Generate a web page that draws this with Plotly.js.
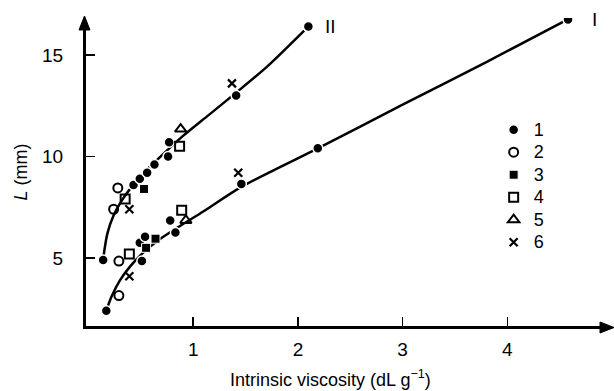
<!DOCTYPE html>
<html><head><meta charset="utf-8">
<script src="https://cdn.plot.ly/plotly-3.0.1.min.js"></script>
<style>html,body{margin:0;padding:0;background:#fff}#chart{width:614px;height:391px}</style>
</head><body><div id="chart"></div>
<script>
// Fitted curves
var curveII_x = [0.14, 0.18, 0.24, 0.32, 0.42, 0.55, 0.70, 0.90, 1.15, 1.40, 1.70, 2.06];
var curveII_y = [4.95, 6.20, 7.10, 7.85, 8.55, 9.30, 10.05, 11.00, 12.05, 13.10, 14.40, 16.20];
var curveI_x = [0.17, 0.22, 0.30, 0.40, 0.52, 0.66, 0.85, 1.10, 1.46, 2.19, 3.00, 3.80, 4.56];
var curveI_y = [2.40, 3.10, 3.90, 4.60, 5.25, 5.85, 6.50, 7.30, 8.50, 10.40, 12.55, 14.65, 16.70];

// Series 1..6 (both curves combined)
var s1_x = [0.14, 0.43, 0.49, 0.56, 0.63, 0.76, 0.77, 1.41, 2.10, 0.17, 0.51, 0.49, 0.54, 0.83, 0.78, 1.46, 2.19, 4.58];
var s1_y = [4.90, 8.60, 8.90, 9.20, 9.60, 10.00, 10.70, 13.00, 16.40, 2.40, 4.85, 5.75, 6.05, 6.25, 6.85, 8.65, 10.40, 16.75];
var s2_x = [0.28, 0.24, 0.29, 0.29];
var s2_y = [8.45, 7.40, 3.15, 4.85];
var s3_x = [0.53, 0.55, 0.64];
var s3_y = [8.40, 5.50, 5.95];
var s4_x = [0.35, 0.87, 0.39, 0.89];
var s4_y = [7.90, 10.50, 5.20, 7.35];
var s5_x = [0.88, 0.93];
var s5_y = [11.35, 6.85];
var s6_x = [0.39, 1.37, 0.39, 1.43];
var s6_y = [7.40, 13.60, 4.10, 9.20];

var seriesNames = ['1', '2', '3', '4', '5', '6'];
var xTicks = [1, 2, 3, 4];
var yTicks = [5, 10, 15];
var curveLabels = ['I', 'II'];
var xTitle = 'Intrinsic viscosity (dL g<sup>\u22121</sup>)';
var yTitle = '<i>L</i> (mm)';

var FONT = 'Liberation Sans, Arial, sans-serif';
var W = 614, H = 391, M = {l: 86, r: 2, t: 18, b: 65};
var PW = W - M.l - M.r, PH = H - M.t - M.b;
// pixel offsets -> paper fractions (for arrowhead decoration)
function px(v) { return v / PW; }
function py(v) { return v / PH; }
function pathFrom(pts) {
  return pts.map(function (p, i) { return (i ? 'L' : 'M') + p[0].toFixed(5) + ',' + p[1].toFixed(5); }).join(' ') + ' Z';
}
var xArrow = pathFrom([[1 + px(2), -py(1.5)], [1 - px(12), -py(1.5) + py(5.5)], [1 - px(12), -py(1.5) - py(5.5)]]);
var yArrow = pathFrom([[-px(1.5), 1 + py(2)], [-px(1.5) - px(5.5), 1 - py(12)], [-px(1.5) + px(5.5), 1 - py(12)]]);

var lineStyle = {color: '#000', width: 2.5, shape: 'spline', smoothing: 0.8};
function legName(n) { return '<span style="font-size:18px">' + n + '</span>'; }

var traces = [
  {x: curveII_x, y: curveII_y, mode: 'lines', line: lineStyle, showlegend: false, hoverinfo: 'skip'},
  {x: curveI_x, y: curveI_y, mode: 'lines', line: lineStyle, showlegend: false, hoverinfo: 'skip'},
  {x: s1_x, y: s1_y, name: legName(seriesNames[0]), mode: 'markers',
   marker: {symbol: 'circle', size: 10, color: '#000', line: {color: '#fff', width: 1.5}}},
  {x: s2_x, y: s2_y, name: legName(seriesNames[1]), mode: 'markers',
   marker: {symbol: 'circle-open', size: 9, color: '#000', line: {color: '#000', width: 2}}},
  {x: s3_x, y: s3_y, name: legName(seriesNames[2]), mode: 'markers',
   marker: {symbol: 'square', size: 9, color: '#000', line: {color: '#fff', width: 1}}},
  {x: s4_x, y: s4_y, name: legName(seriesNames[3]), mode: 'markers',
   marker: {symbol: 'square-open', size: 9, color: '#000', line: {color: '#000', width: 2}}},
  {x: s5_x, y: s5_y, name: legName(seriesNames[4]), mode: 'markers',
   marker: {symbol: 'triangle-up-open', size: 10, color: '#000', line: {color: '#000', width: 2}}},
  {x: s6_x, y: s6_y, name: legName(seriesNames[5]), mode: 'markers',
   marker: {symbol: 'x-thin', size: 8, color: '#000', line: {color: '#000', width: 2.2}}}
];

var layout = {
  width: W, height: H,
  margin: {l: M.l, r: M.r, t: M.t, b: M.b, pad: 0},
  paper_bgcolor: '#fff', plot_bgcolor: '#fff',
  font: {family: FONT, color: '#000', size: 16},
  showlegend: true,
  legend: {x: 0.775, y: 0.69, xanchor: 'left', yanchor: 'top', bgcolor: 'rgba(0,0,0,0)',
           font: {family: FONT, size: 15, color: '#000'}, tracegroupgap: 0, itemwidth: 30},
  xaxis: {range: [-0.024, 5.0], showgrid: false, zeroline: false, showline: true, linewidth: 3, linecolor: '#000',
          ticks: 'inside', ticklen: 9, tickwidth: 1.5, tickcolor: '#000', tickvals: xTicks, ticktext: xTicks.map(String),
          tickfont: {family: FONT, size: 19}, ticklabelstandoff: 4},
  yaxis: {range: [1.65, 16.82], showgrid: false, zeroline: false, showline: true, linewidth: 3, linecolor: '#000',
          ticks: 'inside', ticklen: 9, tickwidth: 1.5, tickcolor: '#000', tickvals: yTicks, ticktext: yTicks.map(String),
          tickfont: {family: FONT, size: 19}, ticklabelstandoff: 16,
          title: {text: yTitle, font: {family: FONT, size: 18}, standoff: 10}},
  shapes: [
    {type: 'path', xref: 'paper', yref: 'paper', path: xArrow, fillcolor: '#000', line: {color: '#000', width: 1}, layer: 'above'},
    {type: 'path', xref: 'paper', yref: 'paper', path: yArrow, fillcolor: '#000', line: {color: '#000', width: 1}, layer: 'above'}
  ],
  annotations: [
    {xref: 'paper', yref: 'paper', x: 0.464, y: -0.169, xanchor: 'center', yanchor: 'middle',
     text: xTitle, showarrow: false, font: {family: FONT, size: 18}},
    {x: s1_x[17], y: s1_y[17], xshift: 26, text: curveLabels[0], showarrow: false, font: {family: FONT, size: 19}},
    {x: s1_x[8], y: s1_y[8], xshift: 22, text: curveLabels[1], showarrow: false, font: {family: FONT, size: 19}}
  ]
};

Plotly.newPlot('chart', traces, layout, {staticPlot: true, displayModeBar: false});
</script>
</body></html>
